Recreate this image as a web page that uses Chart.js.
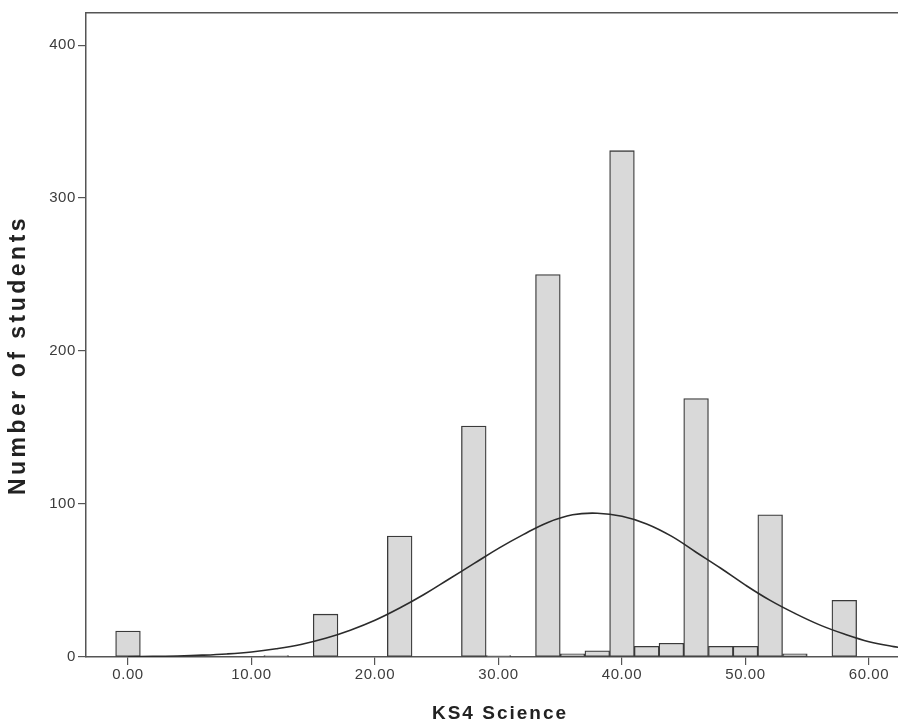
<!DOCTYPE html>
<html>
<head>
<meta charset="utf-8">
<script src="https://cdn.jsdelivr.net/npm/chart.js@4/dist/chart.umd.min.js"></script>
<style>
html,body{margin:0;padding:0;background:#fff;}
canvas{display:block;}
</style>
</head>
<body>
<canvas id="c" width="898" height="726"></canvas>
<script>
// Histogram bins (bin centres, width 2)
const binCenters = [0,2,4,6,8,10,12,14,16,18,20,22,24,26,28,30,32,34,36,38,40,42,44,46,48,50,52,54,56,58];
const counts     = [17,0,0,0,0,0,1,0,28,0,0,79,0,0,151,1,0,250,2,4,331,7,9,169,7,7,93,2,0,37];

// Fitted normal curve
const curveX = [0,2,4,6,8,10,12,14,16,18,20,22,24,26,28,30,32,34,36,38,40,42,44,46,48,50,52,54,56,58,60,62,64];
const curveY = [0.2,0.4,0.7,1.2,2.0,3.3,5.4,8.2,12.2,17.5,24,32,41,51,61,71,80,88,93,94,92,87,79,68.5,58,47,37,28.5,21,15,10,6.8,4.4];

// Axis ticks
const xTicks = [0,10,20,30,40,50,60];
const yTicks = [0,100,200,300,400];

const barData = binCenters.map((x,i)=>({x:x,y:counts[i]}));
const curveData = curveX.map((x,i)=>({x:x,y:curveY[i]}));

const axisColor = '#555';
Chart.defaults.font.family = '"Liberation Sans", Arial, sans-serif';

const spacing = {
  id: 'spacing',
  beforeDraw(chart) { chart.ctx.letterSpacing = '0.6px'; }
};

function spacedTitle(px, dx, dy) {
  return (s) => {
    if (s._spacedTitle) return;
    const orig = s.drawTitle.bind(s);
    s.drawTitle = function () {
      const ctx = this.ctx;
      ctx.save();
      ctx.letterSpacing = px;
      ctx.translate(dx, dy);
      orig();
      ctx.restore();
    };
    s._spacedTitle = true;
  };
}

new Chart(document.getElementById('c'), {
  plugins: [spacing],
  data: {
    datasets: [
      {
        type: 'line',
        data: curveData,
        borderColor: '#2b2b2b',
        borderWidth: 1.6,
        pointRadius: 0,
        tension: 0.4,
        fill: false,
        order: 0
      },
      {
        type: 'bar',
        data: barData,
        backgroundColor: '#d9d9d9',
        borderColor: '#3a3a3a',
        borderWidth: 1.3,
        borderSkipped: false,
        barPercentage: 1,
        categoryPercentage: 1,
        order: 1
      }
    ]
  },
  options: {
    responsive: false,
    animation: false,
    events: [],
    layout: { padding: { top: 0, right: 0, left: 0, bottom: 0 } },
    plugins: { legend: { display: false }, tooltip: { enabled: false } },
    scales: {
      x: {
        type: 'linear',
        offset: false,
        min: -3.4,
        max: 62.35,
        afterBuildTicks: (s) => { s.ticks = xTicks.map(v => ({value: v})); },
        afterFit: (s) => { s.height = 69; },
        afterUpdate: spacedTitle('2px', 8, -1),
        ticks: {
          callback: (v) => v.toFixed(2),
          color: '#3c3c3c',
          font: { size: 15 },
          padding: 1
        },
        grid: { offset: false, drawOnChartArea: false, drawTicks: true, tickLength: 8, tickColor: axisColor, lineWidth: 1.2 },
        border: { color: axisColor, width: 1.5 },
        title: {
          display: true,
          text: 'KS4 Science',
          font: { size: 19, weight: 'bold' },
          color: '#222',
          padding: { top: 2, bottom: 0 }
        }
      },
      x2: {
        type: 'linear',
        position: 'top',
        offset: false,
        min: -3.4,
        max: 62.35,
        afterFit: (s) => { s.height = 13; },
        ticks: { display: false },
        grid: { display: false, drawTicks: false },
        border: { display: true, color: axisColor, width: 1.5 }
      },
      y: {
        type: 'linear',
        min: 0,
        max: 421,
        afterBuildTicks: (s) => { s.ticks = yTicks.map(v => ({value: v})); },
        afterFit: (s) => { s.width = 86; },
        afterUpdate: spacedTitle('3.5px', 0, 20),
        ticks: {
          color: '#3c3c3c',
          font: { size: 15 },
          padding: 2
        },
        grid: { drawOnChartArea: false, drawTicks: true, tickLength: 8, tickColor: axisColor, lineWidth: 1.2 },
        border: { color: axisColor, width: 1.5 },
        title: {
          display: true,
          text: 'Number of students',
          font: { size: 23, weight: 'bold' },
          color: '#222',
          padding: { top: 5, bottom: 0 }
        }
      }
    }
  }
});
</script>
</body>
</html>
